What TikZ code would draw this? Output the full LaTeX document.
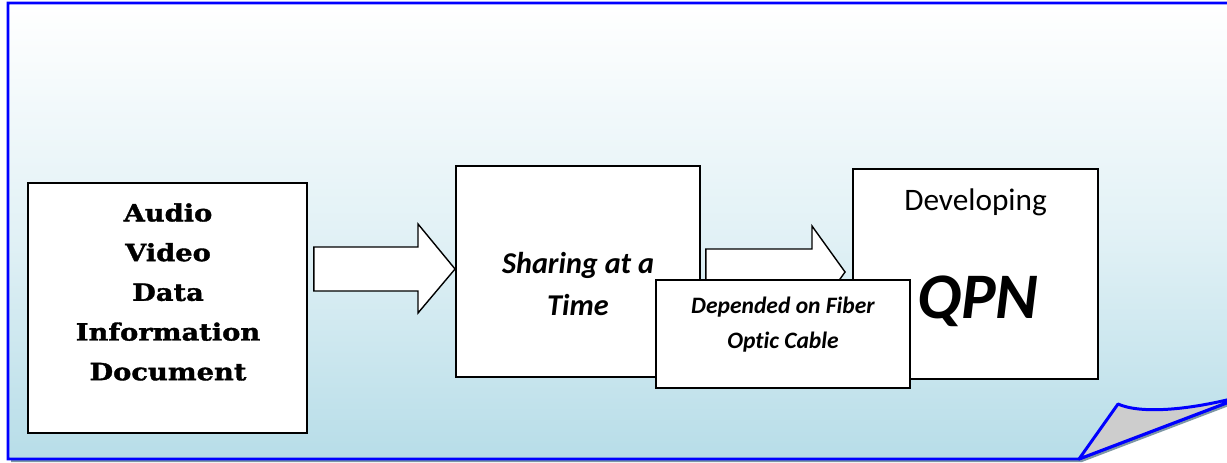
\documentclass[tikz,border=0pt]{standalone}
\usepackage{fontspec}
\setmainfont{Carlito}[Ligatures=NoCommon]
\newfontfamily\fatface[FakeStretch=1.15,FakeBold=1.5]{DejaVu Serif}
\usetikzlibrary{calc}
\definecolor{pageblue}{RGB}{183,221,232}
\definecolor{foldgray}{RGB}{205,205,205}
\definecolor{shadowgray}{RGB}{125,150,165}

\begin{document}
\begin{tikzpicture}[x=0.02cm,y=-0.02cm,
  box/.style={draw,line width=1.1pt,fill=white,inner sep=0pt},
  boxtext/.style={inner sep=0pt,align=center,anchor=north},
  blockarrow/.style={draw,line width=0.8pt,fill=white,line join=miter}]
\useasboundingbox (0,0) rectangle (1227,463);
\clip (0,0) rectangle (1227,463);
% page, its shadow and the curled corner
\fill[shadowgray] (11,6) -- (1250,6) -- (1250,398) -- (1082,462) -- (11,462) -- cycle;
\draw[blue,line width=1.7pt,top color=white,bottom color=pageblue,middle color=pageblue!40]
  (8,3) -- (1250,3) -- (1250,394) -- (1079,459) -- (8,459) -- cycle;
\draw[blue,line width=1.7pt,fill=foldgray,line join=round]
  (1079,459) -- (1118,404) .. controls (1140,414) and (1190,411) .. (1250,394) -- cycle;
% boxes and arrows
\node[box,minimum width=5.58cm,minimum height=5cm] (audio) at (167.5,308) {};
\node[boxtext,font=\fatface\bfseries\fontsize{13.5}{22.6}\selectfont] (audiotxt) at (168,203)
  {Audio\\Video\\Data\\Information\\Document};
\node[box,minimum width=4.88cm,minimum height=4.22cm] (share) at (578,271.5) {};
\node[boxtext,font=\bfseries\itshape\fontsize{17.2}{23.8}\selectfont] (sharetxt) at (578,252)
  {Sharing at a\\Time};
\draw[blockarrow] ($(audio.east|-0,247)+(6,0)$) -- (418,247) -- (418,224) -- (share.west|-0,269)
  -- (418,313) -- (418,291) -- ($(audio.east|-0,291)+(6,0)$) -- cycle;
\node[box,minimum width=4.9cm,minimum height=4.2cm] (dev) at (975.5,274) {};
\draw[blockarrow] ($(share.east|-0,249)+(5,0)$) -- (812,249) -- (812,226) -- ($(dev.west|-0,272)+(-7,0)$)
  -- (812,318) -- (812,295) -- ($(share.east|-0,295)+(5,0)$) -- cycle;
\node[inner sep=0pt,anchor=base,font=\fontsize{17.8}{21}\selectfont] (devtxt) at (975.5,210) {Developing};
\node[inner sep=0pt,anchor=base,font=\bfseries\itshape\fontsize{37}{44}\selectfont] (qpn) at (978,318) {QPN};
\node[box,minimum width=5.08cm,minimum height=2.16cm] (fiber) at (783,334) {};
\node[boxtext,font=\bfseries\itshape\fontsize{13.4}{19.8}\selectfont] (fibertxt) at (783,297)
  {Depended on Fiber\\Optic Cable};
\end{tikzpicture}
\end{document}
